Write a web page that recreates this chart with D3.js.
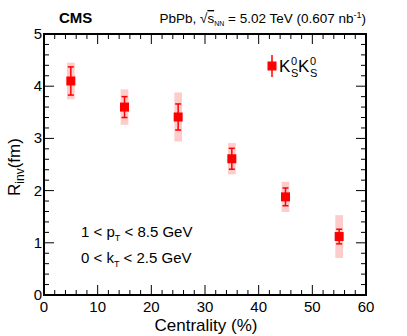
<!DOCTYPE html>
<meta charset="utf-8">
<style>
  body { margin: 0; background: #fff; }
  text { font-family: "Liberation Sans", Arial, sans-serif; fill: #000; }
  .frame { fill: none; stroke: #000; stroke-width: 2; }
  .tick line { stroke: #000; }
  .syst { fill: #ffcccc; }
  .stat { stroke: #ff0000; stroke-width: 1.5; }
  .dot { fill: #ff0000; }
</style>
<body></body>
<script src="https://d3js.org/d3.v7.min.js"></script>
<script>
// centrality bin centres and R_inv values
var centrality = [5, 15, 25, 35, 45, 55];
var rinv = [4.10, 3.60, 3.41, 2.61, 1.88, 1.12];
var statErr = [0.27, 0.20, 0.25, 0.20, 0.17, 0.14];
var systErr = [0.35, 0.34, 0.47, 0.30, 0.29, 0.41];
var xTicks = [0, 10, 20, 30, 40, 50, 60];
var yTicks = [0, 1, 2, 3, 4, 5];

var width = 407, height = 336;
var margin = {top: 34, right: 41, bottom: 41, left: 44};

var svg = d3.select("body").append("svg")
    .attr("width", width)
    .attr("height", height);

var x = d3.scaleLinear().domain([0, 60]).range([margin.left, width - margin.right]);
var y = d3.scaleLinear().domain([0, 5]).range([height - margin.bottom, margin.top]);

var x0 = x(0), x1 = x(60), y0 = y(0), y1 = y(5);

// ticks (ROOT style, pointing inward on all four sides)
var g = svg.append("g");
function minorRange(a, b, step) {
    var out = [];
    for (var v = a; v <= b + 1e-9; v += step) out.push(+v.toFixed(3));
    return out;
}
var xMinor = minorRange(0, 60, 2);
var yMinor = minorRange(0, 5, 0.2);

xMinor.forEach(function(v) {
    var major = xTicks.indexOf(v) >= 0;
    var len = major ? 10 : 5;
    g.append("line").attr("x1", x(v)).attr("x2", x(v)).attr("y1", y0).attr("y2", y0 - len).attr("stroke", "#000");
    g.append("line").attr("x1", x(v)).attr("x2", x(v)).attr("y1", y1).attr("y2", y1 + len).attr("stroke", "#000");
});
yMinor.forEach(function(v) {
    var major = yTicks.indexOf(v) >= 0;
    var len = major ? 10 : 5;
    g.append("line").attr("x1", x0).attr("x2", x0 + len).attr("y1", y(v)).attr("y2", y(v)).attr("stroke", "#000");
    g.append("line").attr("x1", x1).attr("x2", x1 - len).attr("y1", y(v)).attr("y2", y(v)).attr("stroke", "#000");
});

// tick labels
g.selectAll(".xl").data(xTicks).enter().append("text")
    .attr("x", d => x(d)).attr("y", y0 + 17)
    .attr("text-anchor", "middle").style("font-size", "15px")
    .text(d => d);
g.selectAll(".yl").data(yTicks).enter().append("text")
    .attr("x", x0 - 2).attr("y", d => y(d) + 5)
    .attr("text-anchor", "end").style("font-size", "15px")
    .text(d => d);

// systematic boxes
svg.selectAll(".syst").data(centrality).enter().append("rect")
    .attr("class", "syst")
    .attr("x", d => x(d - 0.72))
    .attr("width", x(1.44) - x(0))
    .attr("y", (d, i) => y(rinv[i] + systErr[i]))
    .attr("height", (d, i) => y(rinv[i] - systErr[i]) - y(rinv[i] + systErr[i]));

// statistical error bars
var sg = svg.selectAll(".statg").data(centrality).enter().append("g").attr("class", "stat");
sg.append("line")
    .attr("x1", d => x(d)).attr("x2", d => x(d))
    .attr("y1", (d, i) => y(rinv[i] + statErr[i]))
    .attr("y2", (d, i) => y(rinv[i] - statErr[i]));
[1, -1].forEach(function(s) {
    sg.append("line")
        .attr("x1", d => x(d) - 3).attr("x2", d => x(d) + 3)
        .attr("y1", (d, i) => y(rinv[i] + s * statErr[i]))
        .attr("y2", (d, i) => y(rinv[i] + s * statErr[i]));
});

// markers
svg.selectAll(".dot").data(centrality).enter().append("rect")
    .attr("class", "dot")
    .attr("x", d => x(d) - 4.5).attr("y", (d, i) => y(rinv[i]) - 4.5)
    .attr("width", 9).attr("height", 9);

// frame
svg.append("rect").attr("class", "frame")
    .attr("x", x0).attr("y", y1).attr("width", x1 - x0).attr("height", y0 - y1);

// axis titles
svg.append("text")
    .attr("x", (x0 + x1) / 2 + 1).attr("y", 331)
    .attr("text-anchor", "middle").style("font-size", "17px")
    .text("Centrality (%)");

var yt = svg.append("text")
    .attr("transform", "translate(20," + 167 + ") rotate(-90)")
    .attr("text-anchor", "middle").style("font-size", "17px");
yt.append("tspan").text("R");
yt.append("tspan").attr("dy", 4).style("font-size", "12px").text("inv");
yt.append("tspan").attr("dy", -4).text("(fm)");

// header
svg.append("text").attr("x", 59).attr("y", 23)
    .style("font-size", "15px").style("font-weight", "bold").text("CMS");

var hd = svg.append("text").attr("x", 366).attr("y", 23)
    .attr("text-anchor", "end").style("font-size", "13.5px");
hd.append("tspan").text("PbPb, \u221A");
hd.append("tspan").style("text-decoration", "overline").text("s");
hd.append("tspan").attr("dy", 3).style("font-size", "7px").text("NN");
hd.append("tspan").attr("dy", -3).text(" = 5.02 TeV (0.607 nb");
hd.append("tspan").attr("dy", -5).style("font-size", "9px").text("-1");
hd.append("tspan").attr("dy", 5).text(")");

// legend
var lx = 272, ly = 66;
svg.append("line").attr("class", "stat")
    .attr("x1", lx).attr("x2", lx).attr("y1", ly - 11).attr("y2", ly + 11);
svg.append("rect").attr("class", "dot")
    .attr("x", lx - 4.5).attr("y", ly - 4.5).attr("width", 9).attr("height", 9);
function kshort(xp) {
    svg.append("text").attr("x", xp).attr("y", ly + 6).style("font-size", "17px").text("K");
    svg.append("text").attr("x", xp + 12).attr("y", ly - 1).style("font-size", "11px").text("0");
    svg.append("text").attr("x", xp + 12).attr("y", ly + 11).style("font-size", "11px").text("S");
}
kshort(279);
kshort(298);

// cuts text
var t1 = svg.append("text").attr("x", 81).attr("y", 237).style("font-size", "15px");
t1.append("tspan").text("1 < p");
t1.append("tspan").attr("dy", 4).style("font-size", "9px").text("T");
t1.append("tspan").attr("dy", -4).text(" < 8.5 GeV");
var t2 = svg.append("text").attr("x", 81).attr("y", 263).style("font-size", "15px");
t2.append("tspan").text("0 < k");
t2.append("tspan").attr("dy", 4).style("font-size", "9px").text("T");
t2.append("tspan").attr("dy", -4).text(" < 2.5 GeV");
</script>
